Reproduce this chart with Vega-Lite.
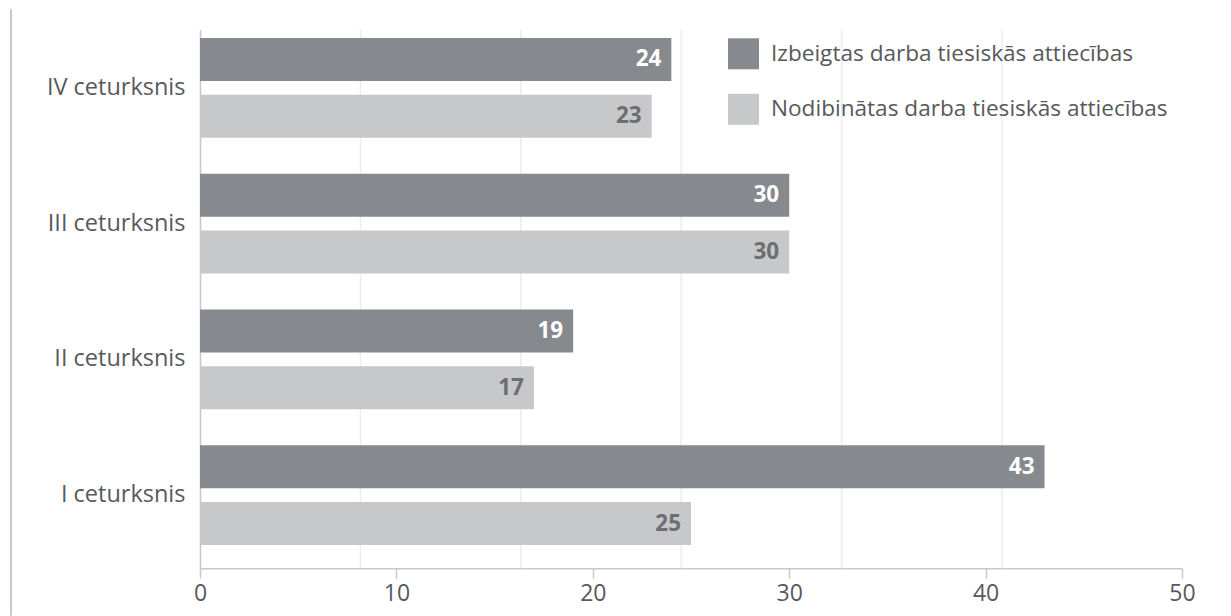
{
  "$schema": "https://vega.github.io/schema/vega-lite/v6.json",
  "width": 982,
  "height": 538.7,
  "autosize": {"type": "none"},
  "padding": {"left": 200, "top": 29.5, "right": 49, "bottom": 47.8},
  "background": "white",
  "config": {"font": "Open Sans", "view": {"stroke": null}},
  "datasets": {
    "bars": [
      {"q": "IV ceturksnis", "s": "Izbeigtas darba tiesiskās attiecības", "v": 24},
      {"q": "IV ceturksnis", "s": "Nodibinātas darba tiesiskās attiecības", "v": 23},
      {"q": "III ceturksnis", "s": "Izbeigtas darba tiesiskās attiecības", "v": 30},
      {"q": "III ceturksnis", "s": "Nodibinātas darba tiesiskās attiecības", "v": 30},
      {"q": "II ceturksnis", "s": "Izbeigtas darba tiesiskās attiecības", "v": 19},
      {"q": "II ceturksnis", "s": "Nodibinātas darba tiesiskās attiecības", "v": 17},
      {"q": "I ceturksnis", "s": "Izbeigtas darba tiesiskās attiecības", "v": 43},
      {"q": "I ceturksnis", "s": "Nodibinātas darba tiesiskās attiecības", "v": 25}
    ],
    "grid": [{"v": 8.17}, {"v": 16.33}, {"v": 24.5}, {"v": 32.67}, {"v": 40.83}]
  },
  "resolve": {"scale": {"x": "independent", "y": "independent"}, "axis": {"x": "independent", "y": "independent"}},
  "layer": [
    {
      "encoding": {
        "x": {
          "field": "v", "type": "quantitative",
          "scale": {"domain": [0, 50], "nice": false, "zero": true},
          "axis": {
            "values": [0, 10, 20, 30, 40, 50], "grid": false, "title": null,
            "labelFlush": false,
            "domainColor": "#c8c8c8", "domainWidth": 1.5,
            "tickColor": "#c8c8c8", "tickSize": 10, "tickWidth": 1.5,
            "labelFontSize": 23, "labelColor": "#58595b", "labelPadding": 4,
            "labelFont": "Open Sans"
          }
        }
      },
      "layer": [
        {
          "data": {"name": "grid"},
          "mark": {"type": "rule", "color": "#ececec", "strokeWidth": 1.5}
        },
        {
          "data": {"name": "bars"},
          "mark": {"type": "bar"},
          "encoding": {
            "y": {
              "field": "q", "type": "nominal",
              "sort": ["IV ceturksnis", "III ceturksnis", "II ceturksnis", "I ceturksnis"],
              "scale": {"paddingInner": 0.2658, "paddingOuter": 0.1164, "align": 0.267},
              "axis": {
                "title": null, "ticks": false, "domainColor": "#c8c8c8", "domainWidth": 1.5,
                "labelFontSize": 23.5, "labelColor": "#58595b", "labelPadding": 15,
                "labelFont": "Open Sans"
              }
            },
            "yOffset": {
              "field": "s", "type": "nominal",
              "sort": ["Izbeigtas darba tiesiskās attiecības", "Nodibinātas darba tiesiskās attiecības"],
              "scale": {"paddingInner": 0.2416, "paddingOuter": 0}
            },
            "color": {
              "field": "s", "type": "nominal",
              "scale": {
                "domain": ["Izbeigtas darba tiesiskās attiecības", "Nodibinātas darba tiesiskās attiecības"],
                "range": ["#86898d", "#c7c8ca"]
              },
              "legend": {
                "title": null, "orient": "none", "legendX": 528, "legendY": 8.8,
                "padding": 0, "symbolType": "square", "symbolSize": 961,
                "symbolStrokeWidth": 0, "symbolOpacity": 1,
                "labelFontSize": 22.6, "labelColor": "#58595b", "labelFont": "Open Sans",
                "labelOffset": 12, "labelLimit": 600, "rowPadding": 24.5
              }
            }
          }
        },
        {
          "data": {"name": "bars"},
          "mark": {"type": "text", "align": "right", "baseline": "middle", "dx": -10, "fontSize": 22.5, "fontWeight": "bold", "font": "Open Sans"},
          "encoding": {
            "y": {
              "field": "q", "type": "nominal",
              "sort": ["IV ceturksnis", "III ceturksnis", "II ceturksnis", "I ceturksnis"]
            },
            "yOffset": {
              "field": "s", "type": "nominal",
              "sort": ["Izbeigtas darba tiesiskās attiecības", "Nodibinātas darba tiesiskās attiecības"]
            },
            "text": {"field": "v", "type": "quantitative"},
            "color": {
              "condition": {"test": "datum.s === 'Izbeigtas darba tiesiskās attiecības'", "value": "#ffffff"},
              "value": "#6d6e71"
            }
          }
        }
      ]
    },
    {
      "data": {"values": [{}]},
      "mark": {"type": "rule", "color": "#c8c8c8", "strokeWidth": 2},
      "encoding": {
        "x": {"datum": -9.62, "type": "quantitative", "scale": {"domain": [0, 50], "nice": false, "zero": true}, "axis": null},
        "y": {"datum": 1.0378, "type": "quantitative", "scale": {"domain": [0, 1], "nice": false, "zero": false}, "axis": null},
        "y2": {"datum": -0.0884}
      }
    }
  ]
}
